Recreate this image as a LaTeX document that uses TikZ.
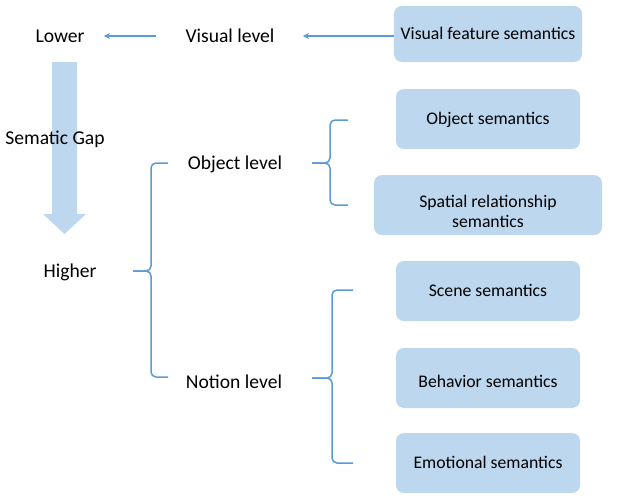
\documentclass[tikz,border=0pt]{standalone}
\usepackage{fontspec}
\setmainfont{Carlito}
\usetikzlibrary{arrows.meta}
\definecolor{semfill}{HTML}{BDD7EE}
\definecolor{semline}{HTML}{5B9BD5}
\begin{document}
\begin{tikzpicture}[x=0.5pt, y=-0.5pt,
		lvl/.style={font=\fontsize{9.8}{11}\selectfont, inner sep=1pt, text height=6.3pt, text depth=0pt},
		sembox/.style={fill=semfill, rounded corners=4pt, minimum width=92pt, minimum height=30pt, align=center, text height=5.7pt, text depth=0pt, font=\fontsize{8.85}{10}\selectfont},
		link/.style={semline, line width=0.6pt, -{Stealth[length=3pt,width=3pt]}},
		lvlbrace/.style={semline, line width=0.75pt, rounded corners=2.5pt}]
	\useasboundingbox (0,0) rectangle (627,495);
	% semantic boxes
	\node[sembox, minimum height=28pt] (vfs) at (488,34) {Visual feature semantics};
	\node[sembox] (objsem) at (488,119) {Object semantics};
	\node[sembox, minimum width=114pt, text height=22pt] (spatial) at (488,205) {Spatial relationship\\semantics};
	\node[sembox] (scene) at (488,291) {Scene semantics};
	\node[sembox, text height=9.7pt] (behav) at (488,378) {Behavior semantics};
	\node[sembox] (emot) at (488,463) {Emotional semantics};
	% levels
	\node[lvl] (lower) at (60,36) {Lower};
	\node[lvl] (visual) at (230,36) {Visual level};
	\node[lvl] (objlvl) at (235,163) {Object level};
	\node[lvl] (notionlvl) at (234,382) {Notion level};
	\node[lvl] (higher) at (70,271) {Higher};
	% semantic gap arrow
	\fill[semfill] (52,62) -- (77,62) -- (77,214) -- (86,214) -- (64.5,234) -- (43,214) -- (52,214) -- cycle;
	\node[lvl] (gap) at (55,138) {Sematic Gap};
	\draw[link, shorten >=13pt] (vfs.west |- visual.east) -- (visual.east);
	\draw[link, shorten <=13.5pt, shorten >=8.5pt] (visual.west) -- (lower.east);
	% braces
	\draw[lvlbrace] (168,163) -- (151,163) -- (151,271) -- (133,271);
	\draw[lvlbrace] (133,271) -- (151,271) -- (151,377) -- (168,377);
	\draw[lvlbrace] (348,120) -- (330,120) -- (330,163) -- (312,163);
	\draw[lvlbrace] (312,163) -- (330,163) -- (330,205) -- (348,205);
	\draw[lvlbrace] (353,290) -- (332,290) -- (332,378) -- (312,378);
	\draw[lvlbrace] (312,378) -- (332,378) -- (332,463) -- (353,463);
\end{tikzpicture}
\end{document}
